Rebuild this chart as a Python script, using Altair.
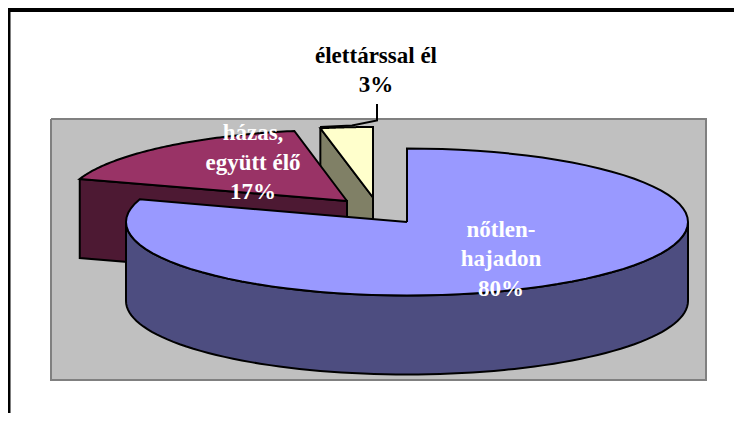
import math
import altair as alt

# --- values ---
categories = ["nőtlen-hajadon", "házas, együtt élő", "élettárssal él"]
shares = [80, 17, 3]
label_lines = [["nőtlen-", "hajadon", "80%"], ["házas,", "együtt élő", "17%"], ["élettárssal él", "3%"]]
title_text = "1. ábra. A megkérdezettek családi állapota"

# --- 3-D pie geometry (canvas pixels) ---
W, H = 742, 421
RX = 281
RY = [73.5, 71.3, 70.5]
CX = [407, 347, 373]
CY = [222, 201, 197.5]
DEPTH = 79
TOP = ["#9999ff", "#993366", "#ffffcc"]
SIDE = ["#4d4d80", "#4d1933", "#808066"]

x_scale = alt.Scale(domain=[0, W], range=[-8, W - 8])
y_scale = alt.Scale(domain=[0, H], range=[-8, H - 8])


def rim(i, a):
    r = math.radians(a)
    return (CX[i] + RX * math.sin(r), CY[i] - RY[i] * math.cos(r))


def arc(i, a0, a1, n=80):
    return [rim(i, a0 + (a1 - a0) * k / n) for k in range(n + 1)]


def poly(pts, fill, stroke="black", sw=2, closed=True):
    pts = list(pts) + ([pts[0]] if closed else [])
    rows = [{"x": p[0], "y": p[1], "o": k} for k, p in enumerate(pts)]
    kw = {"fill": fill} if fill else {}
    return alt.Chart(alt.Data(values=rows)).mark_line(
        stroke=stroke, strokeWidth=sw, strokeJoin="miter", interpolate="linear", **kw
    ).encode(
        x=alt.X("x:Q", scale=x_scale, axis=None),
        y=alt.Y("y:Q", scale=y_scale, axis=None),
        order="o:Q",
    )


# sector angles, clockwise from 12 o'clock
edges = [0]
for s in shares:
    edges.append(edges[-1] + s * 3.6)
a_blue = (edges[0], edges[1])
a_mar = (edges[1], edges[2])
a_yel = (edges[2], edges[3])

layers = []
# plot-area panel
layers.append(poly([(51, 119), (706, 119), (706, 380), (51, 380)], "#c0c0c0", "#808080", 2))

# yellow slice: cut face, then top
p = rim(2, a_yel[0])
c = (CX[2], CY[2])
layers.append(poly([p, c, (c[0], c[1] + DEPTH), (p[0], p[1] + DEPTH)], SIDE[2]))
layers.append(poly([c] + arc(2, *a_yel), TOP[2]))

# maroon slice: cut face, then top
p = rim(1, a_mar[0])
c = (CX[1], CY[1])
layers.append(poly([p, c, (c[0], c[1] + DEPTH), (p[0], p[1] + DEPTH)], SIDE[1]))
layers.append(poly([c] + arc(1, *a_mar), TOP[1]))

# blue slice: front wall, then top
front = arc(0, 90, 270)
layers.append(poly(front + [(x, y + DEPTH) for x, y in reversed(front)], SIDE[0]))
c = (CX[0], CY[0])
layers.append(poly([c] + arc(0, *a_blue), TOP[0]))

# leader line of the small slice
layers.append(poly([(320, 127), (352, 125.5), (377, 120.5), (377, 104)], None, closed=False))

# frame
layers.append(poly([(8.5, H), (8.5, 10), (W, 10)], None, sw=4, closed=False))


def text_layer(lines, x, baselines, color, size=23):
    rows = [{"x": x, "y": b, "t": t} for t, b in zip(lines, baselines)]
    return alt.Chart(alt.Data(values=rows)).mark_text(
        font="Liberation Serif", fontWeight="bold", fontSize=size, color=color,
        align="center", baseline="alphabetic",
    ).encode(
        x=alt.X("x:Q", scale=x_scale, axis=None),
        y=alt.Y("y:Q", scale=y_scale, axis=None),
        text="t:N",
    )


layers.append(text_layer(label_lines[0], 501, [237, 266, 296], "#ffffff"))
layers.append(text_layer(label_lines[1], 253, [140, 170, 199], "#ffffff"))
layers.append(text_layer(label_lines[2], 376, [63, 92], "#000000"))

# the reference's title sits above the top of the drawing area, cut by the picture edge
title = alt.Chart(alt.Data(values=[{"x": 351.5, "y": 1, "t": title_text}])).mark_text(
    font="Liberation Serif", fontSize=32, color="black", align="center", baseline="alphabetic"
).encode(
    x=alt.X("x:Q", scale=x_scale, axis=None),
    y=alt.Y("y:Q", scale=y_scale, axis=None),
    text="t:N",
)
layers.append(title)

chart = alt.layer(*layers).properties(
    width=W - 16,
    height=H - 16,
    padding=0,
    autosize=alt.AutoSizeParams(type="none"),
).configure_view(stroke=None)

chart.save("out.html", embed_options={"renderer": "svg", "actions": False})
